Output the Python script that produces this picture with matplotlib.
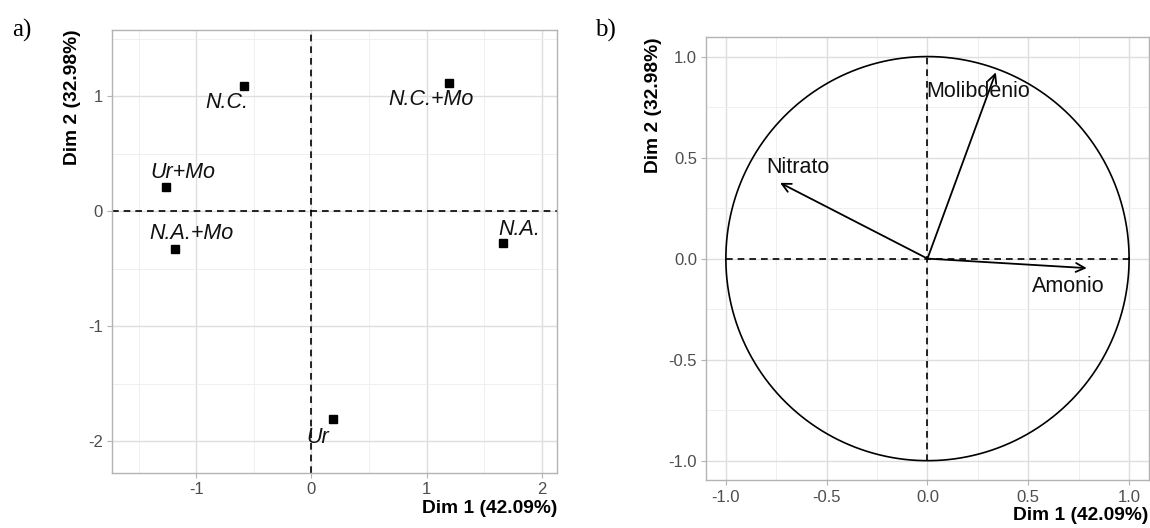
import matplotlib.pyplot as plt
import numpy as np

# individuals (PCA scores)
ind_names = ['N.C.', 'N.C.+Mo', 'Ur+Mo', 'N.A.+Mo', 'N.A.', 'Ur']
ind_dim1 = [-0.588, 1.189, -1.262, -1.182, 1.664, 0.190]
ind_dim2 = [1.090, 1.119, 0.208, -0.328, -0.275, -1.808]

# variables (correlation circle)
var_names = ['Amonio', 'Molibdenio', 'Nitrato']
var_dim1 = [0.790, 0.339, -0.731]
var_dim2 = [-0.047, 0.922, 0.375]

xlab = 'Dim 1 (42.09%)'
ylab = 'Dim 2 (32.98%)'

# label offsets in points (text placement only)
ind_offsets = [(-12.5, -12), (-12.5, -12), (12, 11), (12, 11.5), (11.5, 10), (-11, -13)]
var_offsets = [(-13, -13), (-13, -14), (12.5, 11)]

plt.rcParams['font.family'] = ['Liberation Sans', 'DejaVu Sans']
plt.rcParams['axes.unicode_minus'] = False

fig = plt.figure(figsize=(11.5, 5.28), dpi=100)
ax1 = fig.add_axes([0.0974, 0.1042, 0.3869, 0.8398])
ax2 = fig.add_axes([0.614, 0.090, 0.385, 0.840])


def light_theme(ax):
    ax.set_facecolor('white')
    for s in ax.spines.values():
        s.set_color('#B3B3B3')
        s.set_linewidth(1.0)
    ax.grid(True, which='major', color='#DEDEDE', linewidth=1.0, zorder=0)
    ax.grid(True, which='minor', color='#EDEDED', linewidth=0.6, zorder=0)
    ax.tick_params(which='major', length=3.5, color='#B3B3B3', labelcolor='#4D4D4D',
                   labelsize=12, pad=3)
    ax.tick_params(which='minor', length=0)
    ax.set_axisbelow(True)
    ax.set_xlabel(xlab, loc='right', fontsize=13.8, fontweight='bold', labelpad=2)
    ax.set_ylabel(ylab, loc='top', fontsize=13.8, fontweight='bold', labelpad=5)


# a) individuals
light_theme(ax1)
ax1.set_xlim(-1.731, 2.13)
ax1.set_ylim(-2.277, 1.582)
ax1.set_xticks([-1, 0, 1, 2])
ax1.set_xticks([-1.5, -0.5, 0.5, 1.5], minor=True)
ax1.set_yticks([-2, -1, 0, 1])
ax1.set_yticks([-1.5, -0.5, 0.5, 1.5], minor=True)
ax1.axhline(0, color='black', linestyle=(0, (4, 3)), linewidth=1.2, zorder=2)
ax1.axvline(0, color='black', linestyle=(0, (4, 3)), linewidth=1.2, zorder=2)
ax1.plot(ind_dim1, ind_dim2, 's', color='black', markersize=5.5, zorder=3)
for name, x, y, off in zip(ind_names, ind_dim1, ind_dim2, ind_offsets):
    ax1.annotate(name, (x, y), xytext=off, textcoords='offset points',
                 ha='center', va='center', fontsize=15.5, fontstyle='italic',
                 color='#111111', zorder=4)

# b) correlation circle
light_theme(ax2)
ax2.set_xlim(-1.098, 1.098)
ax2.set_ylim(-1.098, 1.097)
ax2.set_xticks([-1.0, -0.5, 0.0, 0.5, 1.0])
ax2.set_xticks([-0.75, -0.25, 0.25, 0.75], minor=True)
ax2.set_yticks([-1.0, -0.5, 0.0, 0.5, 1.0])
ax2.set_yticks([-0.75, -0.25, 0.25, 0.75], minor=True)
ax2.xaxis.set_major_formatter(plt.FormatStrFormatter('%.1f'))
ax2.yaxis.set_major_formatter(plt.FormatStrFormatter('%.1f'))
t = np.linspace(0, 2 * np.pi, 400)
ax2.plot(np.cos(t), np.sin(t), color='black', linewidth=1.2, zorder=2)
ax2.plot([-1, 1], [0, 0], color='black', linestyle=(0, (4, 3)), linewidth=1.2, zorder=2)
ax2.plot([0, 0], [-1, 1], color='black', linestyle=(0, (4, 3)), linewidth=1.2, zorder=2)
for name, x, y, off in zip(var_names, var_dim1, var_dim2, var_offsets):
    ax2.annotate('', xy=(x, y), xytext=(0, 0),
                 arrowprops=dict(arrowstyle='->', color='black', lw=1.3,
                                 mutation_scale=16, shrinkA=0, shrinkB=0),
                 zorder=3)
    ax2.annotate(name, (x, y), xytext=off, textcoords='offset points',
                 ha='center', va='center', fontsize=15.5, color='#111111', zorder=4)

fig.text(0.0104, 0.943, 'a)', family='Liberation Serif', fontsize=18, va='center')
fig.text(0.517, 0.943, 'b)', family='Liberation Serif', fontsize=18, va='center')

fig.savefig('out.png', dpi=100)
